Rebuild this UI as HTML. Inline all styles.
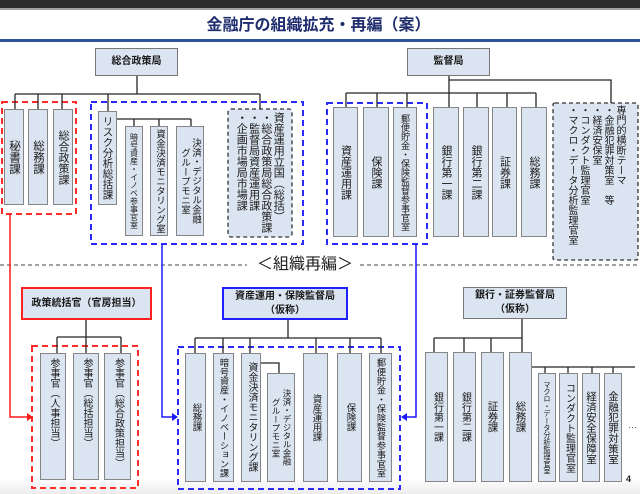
<!DOCTYPE html>
<html><head><meta charset="utf-8">
<style>
html,body{margin:0;padding:0;background:#fff;}
body{width:640px;height:494px;position:relative;overflow:hidden;font-family:"Liberation Sans","Noto Sans CJK JP",sans-serif;color:#1a1a1a;}
.b{position:absolute;box-sizing:border-box;background:#dbe5f1;border:1px solid #858585;display:flex;justify-content:center;align-items:center;}
.t{align-items:flex-start;}
.v{writing-mode:vertical-rl;white-space:nowrap;text-align:center;font-size:11px;line-height:12px;}
.h{font-size:10px;font-weight:bold;text-align:center;line-height:14px;white-space:nowrap;}
.g{position:absolute;writing-mode:vertical-rl;white-space:nowrap;color:#1a1a1a;}
svg{position:absolute;left:0;top:0;}
</style></head><body>
<div style="position:absolute;left:0;top:0;width:640px;height:8px;background:#2b2b2b;"></div>
<div style="position:absolute;left:0;top:8px;width:640px;height:2px;background:#a0a0a0;"></div>
<div style="position:absolute;left:0;top:17px;width:637px;text-align:center;font-size:16px;line-height:18px;font-weight:bold;color:#1f2d6e;">金融庁の組織拡充・再編（案）</div>
<div style="position:absolute;left:0;top:39px;width:640px;height:3px;background:#2d5596;"></div>
<div style="position:absolute;left:0;top:478px;width:640px;height:16px;background:linear-gradient(#ffffff,#ececec);"></div>

<svg width="640" height="494">
<g fill="none" stroke-width="2" stroke-dasharray="6 4">
<rect x="2" y="102" width="74" height="112" stroke="#ff2a2a"/>
<rect x="91" y="102" width="212" height="142" stroke="#2a2aff"/>
<rect x="327" y="103" width="100" height="141" stroke="#2a2aff"/>
<rect x="32" y="346" width="106" height="142" stroke="#ff2a2a"/>
<rect x="178" y="347" width="222" height="142" stroke="#2a2aff"/>
</g>
<g fill="#dbe5f1" stroke="#333" stroke-width="1.3" stroke-dasharray="4 3">
<rect x="228" y="109" width="64" height="128" rx="3"/>
<rect x="553" y="103" width="85" height="157" rx="2"/>
</g>
<g fill="none" stroke="#262626" stroke-width="1.3">
<path d="M137 76V94M15 94H260M15 94V109M38 94V109M62 94V109M108 94V111M260 94V109"/>
<path d="M117 119H191M134 119V126M159 119V126M191 119V126"/>
<path d="M449 76V93M449 80H611V103M346 93H536M346 93V107M377 93V107M407 93V107M449 93V107M477 93V107M507 93V107M536 93V107"/>
<path d="M86 320V337M57 337H121M57 337V353M86 337V353M121 337V353"/>
<path d="M288 320V338M195 338H381M195 338V353M223 338V353M250 338V353M316 338V353M350 338V353M381 338V353M261 363H279V373"/>
<path d="M522 319V338M434 338H522M434 338V352M464 338V352M491 338V352M522 338V352M532 367H635M545 367V373M568 367V373M592 367V373M613 367V373"/>
</g>
<g fill="none" stroke="#444" stroke-width="1" stroke-dasharray="4 3">
<path d="M0 265H247M360 265H640"/>
</g>
<path d="M10 214V417H28" fill="none" stroke="#ff1a1a" stroke-width="1.5"/>
<polygon points="27,413 33,417 27,421" fill="#ff1a1a"/>
<path d="M162 244V417H173" fill="none" stroke="#1a1aff" stroke-width="1.5"/>
<polygon points="172,413 178,417 172,421" fill="#1a1aff"/>
<path d="M416 244V417H406" fill="none" stroke="#1a1aff" stroke-width="1.5"/>
<polygon points="407,413 401,417 407,421" fill="#1a1aff"/>
</svg>

<div style="position:absolute;left:255px;top:256px;width:100px;text-align:center;font-size:16px;line-height:18px;color:#222;">＜組織再編＞</div>

<!-- header boxes -->
<div class="b" style="left:95px;top:48px;width:83px;height:28px;border-color:#777;"><div class="h">総合政策局</div></div>
<div class="b" style="left:407px;top:48px;width:83px;height:28px;border-color:#777;"><div class="h">監督局</div></div>
<div class="b" style="left:21px;top:287px;width:131px;height:33px;border:2px solid #ff2020;"><div class="h">政策統括官（官房担当）</div></div>
<div class="b" style="left:222px;top:287px;width:126px;height:33px;border:2px solid #2020ff;"><div class="h">資産運用・保険監督局<br>（仮称）</div></div>
<div class="b" style="left:463px;top:287px;width:104px;height:32px;border-color:#777;"><div class="h">銀行・証券監督局<br>（仮称）</div></div>

<!-- top-left -->
<div class="b" style="left:4px;top:109px;width:20px;height:96px;"><span class="v" style="font-size:11.5px;">秘書課</span></div>
<div class="b" style="left:28px;top:109px;width:20px;height:96px;"><span class="v" style="font-size:11.5px;">総務課</span></div>
<div class="b" style="left:53px;top:109px;width:20px;height:96px;"><span class="v">総合政策課</span></div>
<div class="b" style="left:98px;top:111px;width:19px;height:94px;"><span class="v" style="font-size:10.5px;">リスク分析総括課</span></div>
<div class="b" style="left:125px;top:126px;width:18px;height:110px;"><span class="v" style="font-size:8px;line-height:9px;">暗号資産・イノベ参事官室</span></div>
<div class="b" style="left:150px;top:126px;width:18px;height:110px;"><span class="v" style="font-size:9.5px;">資金決済モニタリング室</span></div>
<div class="b" style="left:176px;top:126px;width:28px;height:110px;"><span class="v" style="font-size:9.5px;line-height:11px;">決済・デジタル金融<br>グループモニ室</span></div>
<div class="g" style="left:235px;top:112px;height:125px;font-size:11px;line-height:12.3px;">資産運用立国（総括）<br>・総合政策局総合政策課<br>・監督局資産運用課<br>・企画市場局市場課</div>

<!-- top-right -->
<div class="b" style="left:333px;top:107px;width:25px;height:130px;"><span class="v">資産運用課</span></div>
<div class="b" style="left:363px;top:107px;width:26px;height:130px;"><span class="v">保険課</span></div>
<div class="b" style="left:393px;top:107px;width:24px;height:130px;"><span class="v" style="font-size:9px;line-height:10px;">郵便貯金・保険監督参事官室</span></div>
<div class="b" style="left:433px;top:107px;width:26px;height:130px;"><span class="v">銀行第一課</span></div>
<div class="b" style="left:463px;top:107px;width:26px;height:130px;"><span class="v">銀行第二課</span></div>
<div class="b" style="left:492px;top:107px;width:25px;height:130px;"><span class="v">証券課</span></div>
<div class="b" style="left:521px;top:107px;width:26px;height:130px;"><span class="v">総務課</span></div>
<div class="g" style="left:565px;top:105px;height:150px;font-size:10px;line-height:12px;">専門的横断テーマ<br>・金融犯罪対策室　等<br>・経済安保室<br>・コンダクト監理官室<br>・マクロ・データ分析監理官室</div>

<!-- bottom-left -->
<div class="b t" style="left:40px;top:353px;width:26px;height:127px;padding-top:4px;"><span class="v" style="font-size:10px;">参事官（人事担当）</span></div>
<div class="b t" style="left:73px;top:353px;width:26px;height:127px;padding-top:4px;"><span class="v" style="font-size:10px;">参事官（総括担当）</span></div>
<div class="b t" style="left:104px;top:353px;width:27px;height:127px;padding-top:4px;"><span class="v" style="font-size:10px;">参事官（総合政策担当）</span></div>

<!-- bottom-middle -->
<div class="b" style="left:185px;top:353px;width:21px;height:129px;"><span class="v" style="font-size:9.5px;">総務課</span></div>
<div class="b t" style="left:213px;top:353px;width:21px;height:129px;padding-top:4px;"><span class="v" style="font-size:9.2px;">暗号資産・イノベーション課</span></div>
<div class="b t" style="left:241px;top:353px;width:20px;height:129px;padding-top:8px;"><span class="v" style="font-size:10px;">資金決済モニタリング課</span></div>
<div class="b" style="left:267px;top:373px;width:28px;height:109px;"><span class="v" style="font-size:8.5px;line-height:11px;">決済・デジタル金融<br>グループモニ室</span></div>
<div class="b" style="left:303px;top:353px;width:25px;height:129px;"><span class="v" style="font-size:9.5px;">資産運用課</span></div>
<div class="b" style="left:337px;top:353px;width:25px;height:129px;"><span class="v" style="font-size:9.5px;">保険課</span></div>
<div class="b t" style="left:369px;top:353px;width:23px;height:129px;padding-top:4px;"><span class="v" style="font-size:9.2px;">郵便貯金・保険監督参事官室</span></div>

<!-- bottom-right -->
<div class="b" style="left:425px;top:352px;width:23px;height:130px;"><span class="v" style="font-size:10px;">銀行第一課</span></div>
<div class="b" style="left:453px;top:352px;width:23px;height:130px;"><span class="v" style="font-size:10px;">銀行第二課</span></div>
<div class="b" style="left:481px;top:352px;width:23px;height:130px;"><span class="v" style="font-size:10.5px;">証券課</span></div>
<div class="b" style="left:509px;top:352px;width:23px;height:130px;"><span class="v" style="font-size:10.5px;">総務課</span></div>
<div class="b" style="left:538px;top:373px;width:18px;height:109px;"><span class="v" style="font-size:7.2px;line-height:8px;">マクロ・データ分析監理官室</span></div>
<div class="b" style="left:559px;top:373px;width:19px;height:109px;"><span class="v" style="font-size:10px;">コンダクト監理官室</span></div>
<div class="b" style="left:582px;top:373px;width:18px;height:109px;"><span class="v" style="font-size:10.5px;">経済安全保障室</span></div>
<div class="b" style="left:604px;top:373px;width:18px;height:109px;"><span class="v" style="font-size:10.5px;">金融犯罪対策室</span></div>
<div style="position:absolute;left:628px;top:420px;font-size:9px;line-height:10px;color:#444;">…</div>
<div style="position:absolute;left:626px;top:474px;font-size:9px;line-height:10px;font-weight:bold;color:#222;">4</div>
</body></html>
